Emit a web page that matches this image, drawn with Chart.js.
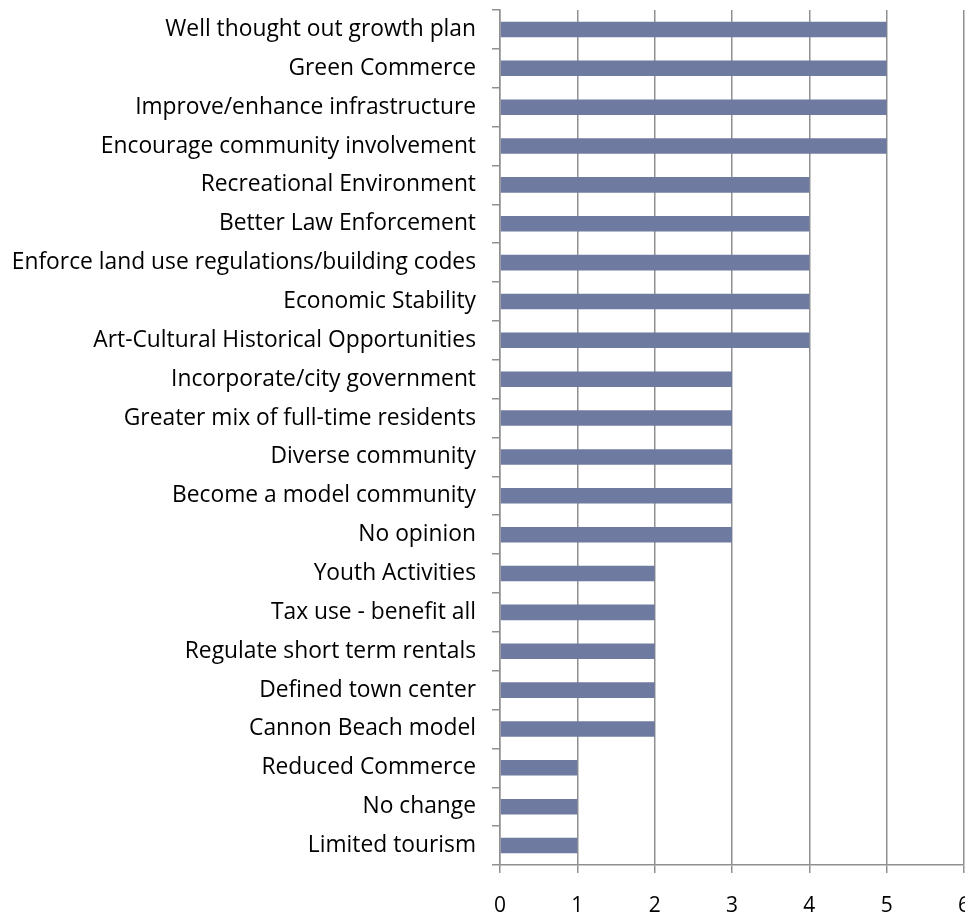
<!DOCTYPE html>
<html>
<head>
<meta charset="utf-8">
<script src="https://cdn.jsdelivr.net/npm/chart.js@4/dist/chart.umd.min.js"></script>
<style>
  html, body { margin: 0; padding: 0; background: #fff; overflow: hidden; }
  #wrap { width: 965px; height: 915px; }
</style>
</head>
<body>
<div id="wrap"><canvas id="chart"></canvas></div>
<script>
// categories, top to bottom as in the picture
const categories = [
  "Well thought out growth plan",
  "Green Commerce",
  "Improve/enhance infrastructure",
  "Encourage community involvement",
  "Recreational Environment",
  "Better Law Enforcement",
  "Enforce land use regulations/building codes",
  "Economic Stability",
  "Art-Cultural Historical Opportunities",
  "Incorporate/city government",
  "Greater mix of full-time residents",
  "Diverse community",
  "Become a model community",
  "No opinion",
  "Youth Activities",
  "Tax use - benefit all",
  "Regulate short term rentals",
  "Defined town center",
  "Cannon Beach model",
  "Reduced Commerce",
  "No change",
  "Limited tourism"
];
const counts = [5, 5, 5, 5, 4, 4, 4, 4, 4, 3, 3, 3, 3, 3, 2, 2, 2, 2, 2, 1, 1, 1];
const xTicks = [0, 1, 2, 3, 4, 5, 6];

const fontFam = "'Open Sans', Lato, sans-serif";
const gridGray = "#909090";

const ctx = document.getElementById("chart");
const chart = new Chart(ctx, {
  type: "bar",
  data: {
    labels: categories,
    datasets: [{
      data: counts,
      backgroundColor: "rgb(111,122,160)",
      borderWidth: 0,
      barPercentage: 0.8,
      categoryPercentage: 0.5
    }]
  },
  options: {
    indexAxis: "y",
    responsive: true,
    maintainAspectRatio: false,
    animation: false,
    layout: {
      autoPadding: false,
      padding: { top: 10, right: 1, left: 0, bottom: 0 }
    },
    plugins: {
      legend: { display: false },
      tooltip: { enabled: false }
    },
    scales: {
      x: {
        min: 0,
        max: 6,
        afterBuildTicks: s => { s.ticks = xTicks.map(v => ({ value: v })); },
        afterFit: s => {
          s.height = 50;
          // let the "6" run off the right edge like the original
          s.paddingLeft = 0;
          s.paddingRight = 0;
        },
        grid: {
          color: gridGray,
          lineWidth: 1.5,
          tickLength: 8,
          drawTicks: true
        },
        border: { color: gridGray, width: 1.5 },
        ticks: {
          color: "#000",
          padding: 20,
          font: { family: fontFam, size: 21 }
        }
      },
      y: {
        afterFit: s => {
          s.width = 500;
          s.paddingTop = 0;
          s.paddingBottom = 0;
        },
        grid: {
          offset: true,
          drawOnChartArea: false,
          color: gridGray,
          lineWidth: 1.5,
          tickLength: 8
        },
        border: { color: gridGray, width: 1.5 },
        ticks: {
          color: "#000",
          padding: 16,
          autoSkip: false,
          font: { family: fontFam, size: 22.8 }
        }
      }
    }
  }
});
</script>
</body>
</html>
